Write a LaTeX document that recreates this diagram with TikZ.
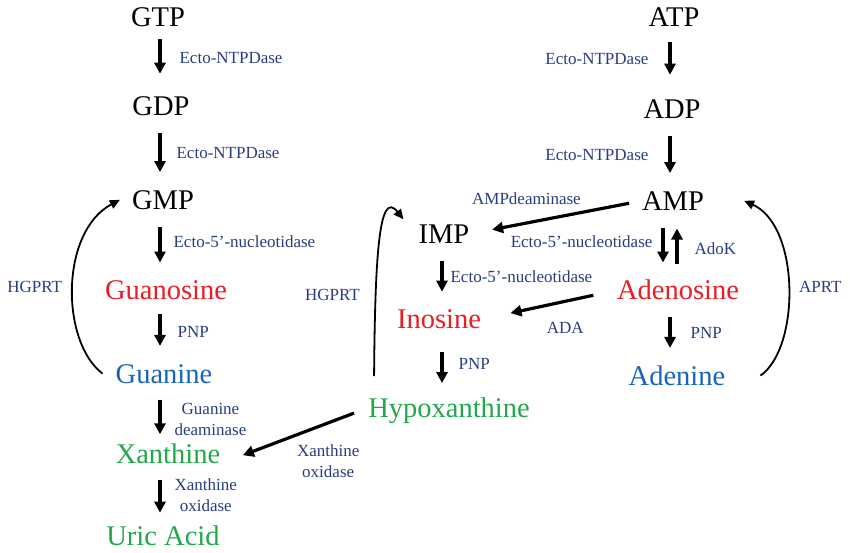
\documentclass[tikz,border=0pt]{standalone}
\usepackage{fontspec}
\setmainfont{Liberation Serif}
\usetikzlibrary{arrows.meta, positioning}

\definecolor{labblue}{RGB}{40,60,130}
\definecolor{ared}{RGB}{235,28,36}
\definecolor{ablue}{RGB}{21,101,192}
\definecolor{agreen}{RGB}{34,168,74}

\begin{document}
\begin{tikzpicture}[x=1pt, y=-1pt,
    mol/.style={font=\fontsize{28.5}{30}\selectfont, inner sep=0pt, text height=19pt, text depth=0pt},
    lab/.style={font=\fontsize{17}{21}\selectfont, text=labblue, inner sep=0pt, align=center},
    arr/.style={-{Triangle[length=11pt, width=11pt]}, line width=3.2pt, shorten <=17pt, shorten >=18pt},
    salv/.style={-{Triangle[length=10pt, width=9pt]}, line width=1.8pt}]
  \useasboundingbox (0,0) rectangle (850,553);

  % guanine column
  \node (gtp) [mol] at (158,17.5) {GTP};
  \node (gdp) [mol, below=69.5pt of gtp, xshift=3pt] {GDP};
  \node (gmp) [mol, below=74pt of gdp, xshift=2pt] {GMP};
  \node (guo) [mol, text=ared, below=71pt of gmp, xshift=3pt] {Guanosine};
  \node (gua) [mol, text=ablue, below=64pt of guo, xshift=-2pt] {Guanine};
  \node (xan) [mol, text=agreen, below=61pt of gua, xshift=4pt] {Xanthine};
  \node (uric) [mol, text=agreen, below=63pt of xan, xshift=-5pt] {Uric Acid};

  % inosine column
  \node (imp) [mol] at (444,234) {IMP};
  \node (ino) [mol, text=ared, below=66pt of imp, xshift=-5pt] {Inosine};
  \node (hyp) [mol, text=agreen, below=69pt of ino, xshift=10pt] {Hypoxanthine};

  % adenine column
  \node (atp) [mol] at (674,17.5) {ATP};
  \node (adp) [mol, below=72.5pt of atp, xshift=-2pt] {ADP};
  \node (amp) [mol, below=72pt of adp, xshift=1pt] {AMP};
  \node (ado) [mol, text=ared, below=70pt of amp, xshift=5pt] {Adenosine};
  \node (ade) [mol, text=ablue, below=66pt of ado, xshift=-1pt] {Adenine};

  \coordinate (gcol) at (160,0);
  \coordinate (icol) at (442,0);
  \coordinate (acol) at (670,0);
  \coordinate (dcol) at (663,0);
  \coordinate (ucol) at (677,0);

  \draw[arr, shorten <=12pt, shorten >=23pt] (gtp.south -| gcol) -- node[lab, right=18pt, pos=.44] (e1) {Ecto-NTPDase} (gdp.north -| gcol);
  \draw[arr] (gdp.south -| gcol) -- node[lab, right=15pt] (e2) {Ecto-NTPDase} (gmp.north -| gcol);
  \draw[arr] (gmp.south -| gcol) -- node[lab, right=12pt, pos=.45] (e3) {Ecto-5’-nucleotidase} (guo.north -| gcol);
  \draw[arr, shorten <=14pt] (guo.south -| gcol) -- node[lab, right=16pt] (e4) {PNP} (gua.north -| gcol);
  \draw[arr, shorten >=10pt] (gua.south -| gcol) -- node[lab, right=13pt, pos=.6] (e5) {Guanine\\deaminase} (xan.north -| gcol);
  \draw[arr, shorten <=16pt, shorten >=14pt] (xan.south -| gcol) -- node[lab, right=13pt] (e6) {Xanthine\\oxidase} (uric.north -| gcol);

  \draw[arr] (imp.south -| icol) -- node[lab, right=7pt] (e7) {Ecto-5’-nucleotidase} (ino.north -| icol);
  \draw[arr, shorten <=23pt, shorten >=15pt] (ino.south -| icol) -- node[lab, right=15pt] (e8) {PNP} (hyp.north -| icol);

  \draw[arr, shorten <=15pt, shorten >=25pt] (atp.south -| acol) -- node[lab, left=20pt, pos=.44] (e9) {Ecto-NTPDase} (adp.north -| acol);
  \draw[arr] (adp.south -| acol) -- node[lab, left=20pt] (e10) {Ecto-NTPDase} (amp.north -| acol);
  \draw[arr] (amp.south -| dcol) -- node[lab, left=9pt, pos=.44] (e11) {Ecto-5’-nucleotidase} (ado.north -| dcol);
  \draw[arr] (ado.north -| ucol) -- node[lab, right=16pt, pos=.46] (e12) {AdoK} (amp.south -| ucol);
  \draw[arr] (ado.south -| acol) -- node[lab, right=19pt] (e13) {PNP} (ade.north -| acol);

  % cross-over reactions
  \draw[arr, shorten <=13pt, shorten >=23pt] (amp.west) -- node[lab, pos=.67, yshift=24pt] (e14) {AMPdeaminase} (imp.east);
  \draw[arr, shorten <=24pt, shorten >=30pt] (ado.west) -- node[lab, pos=.38, yshift=-27pt] (e15) {ADA} (ino.east);
  \draw[arr, shorten <=15pt, shorten >=24pt] (hyp.west) -- node[lab, pos=.27, yshift=-38pt] (e16) {Xanthine\\oxidase} (xan.south east);

  % salvage
  \draw[salv] ([xshift=-13pt]gua.west) .. controls +(-42,-32) and +(-60,32) .. ([xshift=-12pt]gmp.west) node[lab, pos=.5, left=10pt] (h1) {HGPRT};
  \draw[salv] ([shift={(6,-22)}]hyp.north west) .. controls +(1,-125) and +(-24,-30) .. ([shift={(-15,-5)}]imp.north west) node[lab, pos=.25, left=15pt] (h2) {HGPRT};
  \draw[salv] ([xshift=35pt]ade.east) .. controls +(40,-28) and +(56,25) .. ([xshift=40pt]amp.east) node[lab, pos=.5, right=10pt] (h3) {APRT};
\end{tikzpicture}
\end{document}
